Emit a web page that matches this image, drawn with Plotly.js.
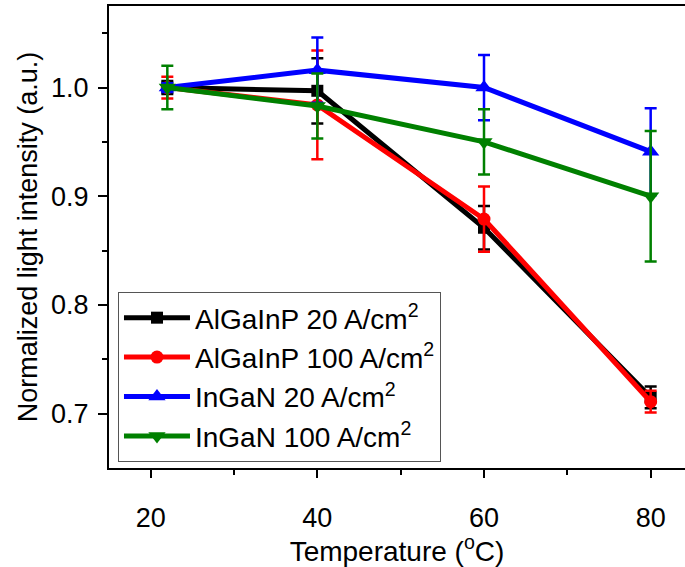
<!DOCTYPE html>
<html>
<head>
<meta charset="utf-8">
<script src="https://cdn.plot.ly/plotly-3.0.1.min.js"></script>
<style>
  html, body { margin: 0; padding: 0; background: #fff; }
  #chart { width: 685px; height: 567px; }
</style>
</head>
<body>
<div id="chart"></div>
<script>
// Temperature points (°C)
const temperature = [22, 40, 60, 80];

// Normalized light intensity and error bars for each LED / current density
const algainp20 = [1.0, 0.997, 0.871, 0.715];
const algainp20Err = [0.006, 0.03, 0.02, 0.01];

const algainp100 = [1.0, 0.984, 0.879, 0.711];
const algainp100Err = [0.01, 0.05, 0.03, 0.01];

const ingan20 = [1.0, 1.016, 1.0, 0.941];
const ingan20Err = [0.004, 0.03, 0.03, 0.04];

const ingan100 = [1.0, 0.983, 0.95, 0.9];
const ingan100Err = [0.02, 0.03, 0.03, 0.06];

const seriesNames = [
  'AlGaInP 20 A/cm<sup>2</sup>',
  'AlGaInP 100 A/cm<sup>2</sup>',
  'InGaN 20 A/cm<sup>2</sup>',
  'InGaN 100 A/cm<sup>2</sup>'
];

const FONT = 'Liberation Sans, Arial, sans-serif';

function series(name, y, err, color, symbol, size) {
  return {
    type: 'scatter',
    mode: 'lines+markers',
    name: name,
    x: temperature,
    y: y,
    line: { color: color, width: 5 },
    marker: { color: color, symbol: symbol, size: size },
    error_y: {
      type: 'data', array: err, visible: true,
      color: color, thickness: 2.5, width: 6
    }
  };
}

const traces = [
  series(seriesNames[0], algainp20, algainp20Err, '#000000', 'square', 12),
  series(seriesNames[1], algainp100, algainp100Err, '#ff0000', 'circle', 13),
  series(seriesNames[2], ingan20, ingan20Err, '#0000ff', 'triangle-up', 15),
  series(seriesNames[3], ingan100, ingan100Err, '#008000', 'triangle-down', 15)
];

const layout = {
  width: 685,
  height: 567,
  margin: { l: 109, r: 0, t: 6, b: 99 },
  paper_bgcolor: '#ffffff',
  plot_bgcolor: '#ffffff',
  font: { family: FONT, color: '#000', size: 28 },
  showlegend: true,
  legend: {
    x: 0.0156, y: 0.381, xanchor: 'left', yanchor: 'top',
    bgcolor: 'rgba(255,255,255,1)',
    bordercolor: '#555', borderwidth: 1,
    font: { family: FONT, size: 28, color: '#000' },
    itemwidth: 66,
    tracegroupgap: 0
  },
  xaxis: {
    range: [15, 84.12],
    tickvals: [20, 40, 60, 80],
    ticks: 'outside', ticklen: 8, tickwidth: 2, tickcolor: '#000',
    minor: { tickvals: [30, 50, 70], ticks: 'outside', ticklen: 5, tickwidth: 2, tickcolor: '#000' },
    showline: true, linecolor: '#000', linewidth: 2, mirror: true,
    showgrid: false, zeroline: false,
    tickfont: { family: FONT, size: 27 },
    ticklabelstandoff: 17,
    title: { text: 'Temperature (<sup>o</sup>C)', font: { family: FONT, size: 28 }, standoff: 1 }
  },
  yaxis: {
    range: [0.65, 1.075],
    tickvals: [0.7, 0.8, 0.9, 1.0],
    ticktext: ['0.7', '0.8', '0.9', '1.0'],
    ticks: 'outside', ticklen: 9, tickwidth: 2, tickcolor: '#000',
    minor: { tickvals: [0.75, 0.85, 0.95, 1.05], ticks: 'outside', ticklen: 5, tickwidth: 2, tickcolor: '#000' },
    showline: true, linecolor: '#000', linewidth: 2, mirror: false,
    showgrid: false, zeroline: false,
    tickfont: { family: FONT, size: 27 },
    ticklabelstandoff: 4,
    title: { text: 'Normalized light intensity (a.u.)', font: { family: FONT, size: 27 }, standoff: 6 }
  }
};

Plotly.newPlot('chart', traces, layout, { displayModeBar: false, staticPlot: true });
</script>
</body>
</html>
